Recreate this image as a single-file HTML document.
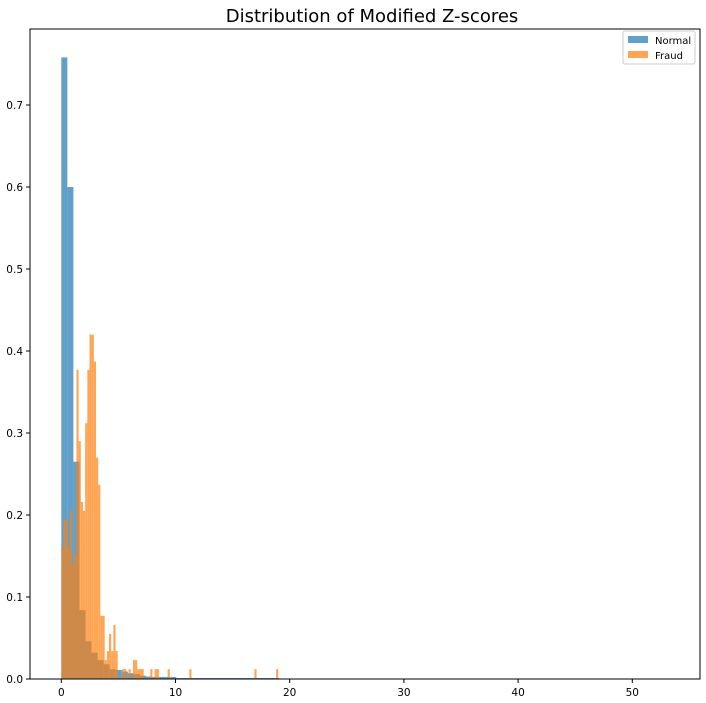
<!DOCTYPE html>
<html><head><meta charset="utf-8"><style>
body{margin:0;background:#fff;}
svg{display:block;font-family:"DejaVu Sans","Liberation Sans",sans-serif;}
</style></head><body>
<svg id="chart" width="706" height="703" viewBox="0 0 706 703" xmlns="http://www.w3.org/2000/svg">
<rect x="0" y="0" width="706" height="703" fill="#fff"/>
<text x="372" y="22" font-size="18" text-anchor="middle" fill="#000">Distribution of Modified Z-scores</text>
<g id="bars-normal"></g>
<g id="bars-fraud"></g>
<g id="axes"></g>
<g>
<rect x="623" y="31" width="72" height="33" fill="#fff" stroke="#ccc" stroke-width="1" rx="2"/>
<rect x="628" y="36" width="20" height="7" fill="#1f77b4" fill-opacity="0.7"/>
<text x="655" y="44" font-size="10" fill="#000">Normal</text>
<rect x="628" y="51" width="20" height="7" fill="#ff7f0e" fill-opacity="0.7"/>
<text x="655" y="59" font-size="10" fill="#000">Fraud</text>
</g>
</svg>
<script>
const normalBinWidth = 0.53;
const normalHeights = [0.758,0.6,0.265,0.084,0.046,0.032,0.023,0.018,0.012,0.011,
0.009,0.007,0.006,0.004,0.003,0.0025,0.0025,0.0025,0.0025,0.0012,
0.0012,0.0012,0.0012,0.0012,0.0012,0.0012,0.0012,0.0012,0.0012,0.0012,
0.0012,0.0012,0.0012,0.0012,0.0012,0.0012];
const fraudBinWidth = 0.19;
const fraudHeights = [0.161,0.194,0.194,0.16,0.205,0.14,0.152,0.377,0.29,0.216,
0.205,0.312,0.377,0.42,0.42,0.387,0.27,0.237,0.077,0.077,
0.023,0.034,0.055,0.034,0.066,0.034,0,0,0.012,0.012,
0,0.012,0,0.023,0.023,0.012,0.012,0.012,0,0,
0,0.012,0,0.012,0.012,0,0,0,0,0.012,
0,0,0,0,0,0,0,0,0,0.012,
0,0,0,0,0,0,0,0,0,0,
0,0,0,0,0,0,0,0,0,0,
0,0,0,0,0,0,0,0,0,0.012,
0,0,0,0,0,0,0,0,0,0.012];
const xTicks = [0,10,20,30,40,50];
const yTicks = [0,0.1,0.2,0.3,0.4,0.5,0.6,0.7];
const yTickLabels = ["0.0","0.1","0.2","0.3","0.4","0.5","0.6","0.7"];

const L=30,R=700,T=29,B=679;
const xS = v => 61.3 + v*11.42;
const yS = v => B - v*820;
const NS="http://www.w3.org/2000/svg";
function mk(tag, attrs){const e=document.createElementNS(NS,tag);for(const k in attrs)e.setAttribute(k,attrs[k]);return e;}

const gN=document.getElementById('bars-normal');
normalHeights.forEach((h,i)=>{
  if(h<=0)return;
  const x0=xS(i*normalBinWidth), x1=xS((i+1)*normalBinWidth);
  const r=mk('rect',{x:x0,y:yS(h),width:x1-x0,height:B-yS(h),fill:'#1f77b4','fill-opacity':0.7});
  
  
  gN.appendChild(r);
});
const gF=document.getElementById('bars-fraud');
fraudHeights.forEach((h,i)=>{
  if(h<=0)return;
  const x0=xS(i*fraudBinWidth), x1=xS((i+1)*fraudBinWidth);
  const r=mk('rect',{x:x0,y:yS(h),width:x1-x0,height:B-yS(h),fill:'#ff7f0e','fill-opacity':0.7});
  
  
  gF.appendChild(r);
});
const gA=document.getElementById('axes');
const frame=mk('rect',{x:L,y:T,width:R-L,height:B-T,fill:'none',stroke:'#000','stroke-width':1});


gA.appendChild(frame);
xTicks.forEach(v=>{
  const x=xS(v);
  gA.appendChild(mk('line',{x1:x,x2:x,y1:B,y2:B+4,stroke:'#000'}));
  const t=mk('text',{x:x,y:B+17,'font-size':10.5,'text-anchor':'middle',fill:'#000'});
  
  
  t.textContent=v;gA.appendChild(t);
});
yTicks.forEach((v,i)=>{
  const y=yS(v);
  gA.appendChild(mk('line',{x1:L-4,x2:L,y1:y,y2:y,stroke:'#000'}));
  const t=mk('text',{x:L-7,y:y+4,'font-size':10.5,'text-anchor':'end',fill:'#000'});
  
  
  t.textContent=yTickLabels[i];gA.appendChild(t);
});
</script>
</body></html>
